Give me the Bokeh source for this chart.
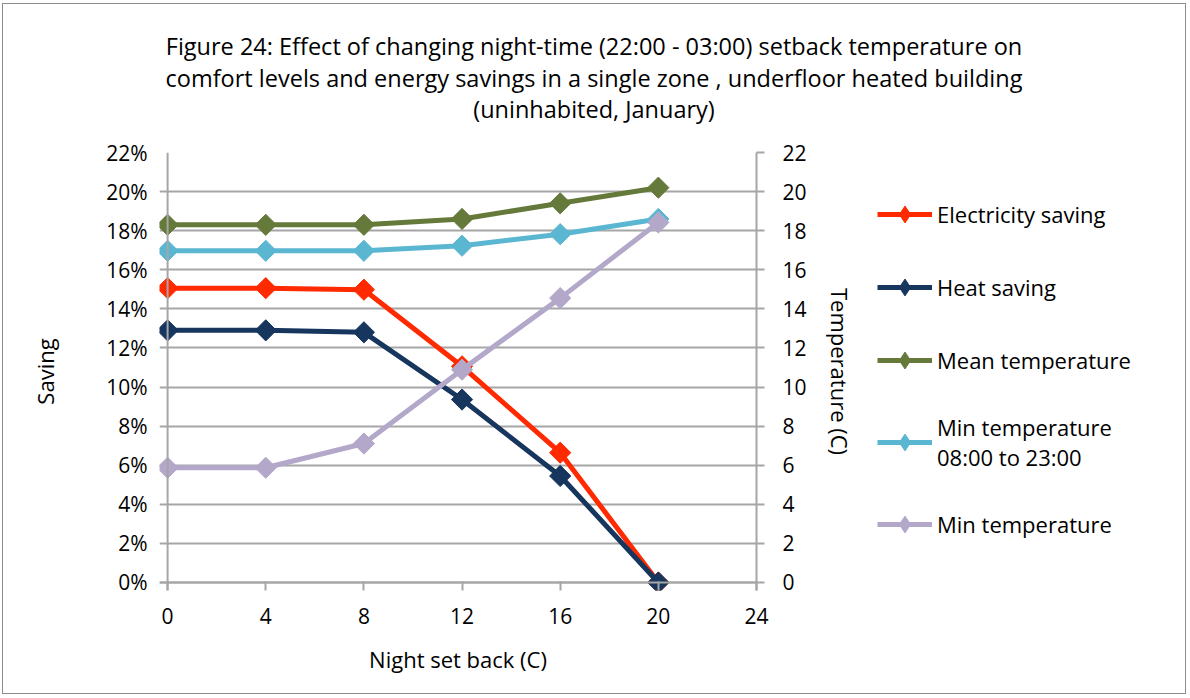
import numpy as np
from bokeh.plotting import figure
from bokeh.layouts import row, column
from bokeh.models import (Range1d, LinearAxis, Legend, LegendItem, FixedTicker,
                          NumeralTickFormatter, Span, Div)
from bokeh.embed import file_html
from bokeh.resources import INLINE

# ---- data ----
setback = [0, 4, 8, 12, 16, 20]
electricity_saving = [0.1506, 0.1506, 0.1498, 0.1106, 0.0664, 0.0]
heat_saving = [0.1290, 0.1290, 0.1280, 0.0936, 0.0545, 0.0]
mean_temperature = [18.3, 18.3, 18.3, 18.6, 19.4, 20.2]
min_temp_day = [16.97, 16.97, 16.97, 17.23, 17.82, 18.6]
min_temperature = [5.87, 5.87, 7.11, 10.89, 14.55, 18.42]

x_ticks = [0, 4, 8, 12, 16, 20, 24]
saving_ticks = [0.0, 0.02, 0.04, 0.06, 0.08, 0.10, 0.12, 0.14, 0.16, 0.18, 0.20, 0.22]
temp_ticks = [0, 2, 4, 6, 8, 10, 12, 14, 16, 18, 20, 22]

series_names = ["Electricity saving", "Heat saving", "Mean temperature",
                "Min temperature\n08:00 to 23:00", "Min temperature"]
series_colors = ["#FF2A00", "#17365D", "#65793A", "#5BB7D1", "#B3A8CA"]

title_lines = ["Figure 24: Effect of changing night-time (22:00 - 03:00) setback temperature on",
               "comfort levels and energy savings in a single zone , underfloor heated building",
               "(uninhabited, January)"]

FONT = "Open Sans"
GRID = "#A6A6A6"

# ---- title block ----
title_div = Div(
    text=('<div style="display:block; width:1172px; text-align:center; '
          'font-family:\'Open Sans\'; font-size:23.5px; line-height:31.5px; '
          'padding-left:10px; padding-top:27px; color:#000000;">'
          + "<br>".join(title_lines) + "</div>"),
    width=1182, height=132, margin=(0, 0, 0, 0))

# ---- main plot ----
p = figure(frame_width=597, frame_height=438, output_backend="svg", toolbar_location=None,
           x_range=Range1d(-0.33, 24), y_range=Range1d(-0.0041, 0.22),
           min_border_left=156, min_border_right=110, min_border_top=16,
           min_border_bottom=103, title=None)
p.extra_y_ranges = {"temp": Range1d(-0.41, 22)}
p.outline_line_color = None
p.background_fill_color = "white"
p.border_fill_color = "white"

p.xaxis.ticker = FixedTicker(ticks=x_ticks)
p.xaxis.axis_label = "Night set back (C)"
p.yaxis.ticker = FixedTicker(ticks=saving_ticks)
p.yaxis.formatter = NumeralTickFormatter(format="0%")
p.yaxis.axis_label = "Saving"

right = LinearAxis(y_range_name="temp", ticker=FixedTicker(ticks=temp_ticks),
                   axis_label="Temperature (C)")
p.add_layout(right, "right")

for ax in [p.xaxis[0], p.yaxis[0], right]:
    ax.major_label_text_font = FONT
    ax.major_label_text_font_size = "21px"
    ax.major_label_text_color = "#000000"
    ax.axis_label_text_font = FONT
    ax.axis_label_text_font_size = "22px"
    ax.axis_label_text_font_style = "normal"
    ax.axis_label_text_color = "#000000"
    ax.minor_tick_line_color = None
    ax.major_tick_line_color = GRID
    ax.major_tick_line_width = 2

p.xaxis.axis_line_color = None
p.xaxis.major_tick_in = 9
p.xaxis.major_tick_out = 0
p.xaxis.major_label_standoff = 17
p.xaxis.axis_label_standoff = 17

p.yaxis.axis_line_color = None
p.yaxis.major_tick_in = 0
p.yaxis.major_tick_out = 0
p.yaxis.major_label_standoff = 12
p.yaxis.axis_label_standoff = 43

right.axis_line_color = GRID
right.axis_line_width = 2
right.major_tick_in = 0
right.major_tick_out = 8
right.major_label_standoff = 18
right.axis_label_standoff = 15

p.xgrid.grid_line_color = None
p.ygrid.grid_line_color = GRID
p.ygrid.grid_line_width = 2
p.ygrid.ticker = FixedTicker(ticks=saving_ticks)

p.add_layout(Span(location=0, dimension="height", line_color=GRID, line_width=2))
p.add_layout(Span(location=0, dimension="width", line_color=GRID, line_width=2))

# ---- legend panel: a figure of its own whose glyphs sit outside its view ----
pl = figure(width=319, height=557, output_backend="svg", toolbar_location=None,
            x_range=Range1d(100, 101), y_range=Range1d(100, 101),
            x_axis_type=None, y_axis_type=None, min_border=0, title=None)
pl.outline_line_color = None
pl.grid.visible = False
pl.background_fill_color = "white"
pl.border_fill_color = "white"

# ---- series ----
data = [(electricity_saving, "default"), (heat_saving, "default"),
        (mean_temperature, "temp"), (min_temp_day, "temp"), (min_temperature, "temp")]
items = []
for (vals, rng), name, col in zip(data, series_names, series_colors):
    p.line(setback, vals, y_range_name=rng, line_color=col, line_width=5)
    p.scatter(setback, vals, y_range_name=rng, marker="square", angle=np.pi / 4,
              size=15, fill_color=col, line_color=col)
    lk = pl.line(setback, vals, line_color=col, line_width=5)
    mk = pl.scatter(setback, vals, marker="diamond", size=0, fill_color=col, line_color=col)
    items.append(LegendItem(label=name, renderers=[lk, mk]))

legend = Legend(items=items, location=(11, 45), padding=0, margin=0,
                border_line_color=None, background_fill_alpha=0,
                label_text_font=FONT, label_text_font_size="22px",
                label_text_color="#000000", glyph_width=55, glyph_height=42,
                label_height=20, spacing=31, label_standoff=5)
pl.add_layout(legend, "center")

layout = column(title_div, row(p, pl, spacing=0), spacing=0,
                styles={"border": "1px solid #8C8C8C", "margin-left": "2px", "margin-top": "3px"})

open("out.html", "w").write(file_html(layout, INLINE))
